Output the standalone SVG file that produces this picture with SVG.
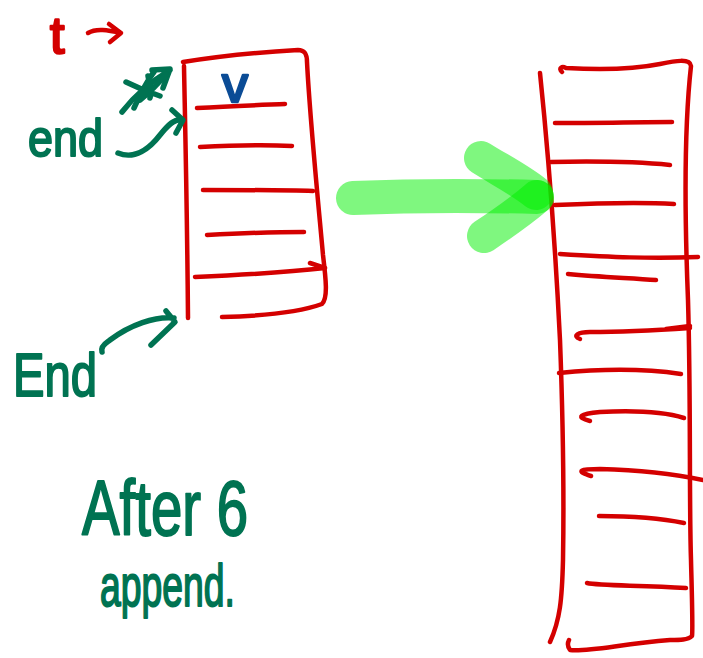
<svg xmlns="http://www.w3.org/2000/svg" width="703" height="658" viewBox="0 0 703 658">
  <style>
    .red { fill: none; stroke: #d40000; stroke-width: 4.5; stroke-linecap: round; stroke-linejoin: round; }
    .ink { fill: none; stroke: #007352; stroke-width: 5.5; stroke-linecap: round; stroke-linejoin: round; }
    .hl { fill: none; stroke: #00f000; stroke-opacity: 0.5; stroke-width: 34; stroke-linecap: round; stroke-linejoin: round; }
    .hand { font-family: "Liberation Sans", "DejaVu Sans", sans-serif; stroke-linejoin: round; }
    .green { fill: #007352; stroke: #007352; stroke-width: 2; }
  </style>
  <rect width="703" height="658" fill="#ffffff"/>

  <!-- pointer label t -->
  <g id="label-t">
    <text class="hand" x="50" y="53" font-size="52" fill="#d40000" stroke="#d40000" stroke-width="2.5">t</text>
  </g>

  <!-- small array (before growing) -->
  <g id="small-array">
    <path class="red" d="M184,66 C185,120 187,200 188,318"/>
    <path class="red" d="M183,62 C220,56 262,52 298,50 C306,50 307,56 307,62 C310,120 318,200 323,255 C326,280 328,298 322,304 C300,312 262,316 222,317"/>
    <path class="red" d="M197,108 C230,106 260,105 285,104"/>
    <path class="red" d="M200,147 C240,145 270,145 292,146"/>
    <path class="red" d="M203,190 C250,190 285,190 313,191"/>
    <path class="red" d="M207,235 C245,233 280,232 304,232"/>
    <path class="red" d="M195,277 C240,275 290,272 325,268 M310,263 L325,268"/>
    <text class="hand" x="222" y="102" font-size="52" fill="#0b4c96" stroke="#0b4c96" stroke-width="2.5">v</text>
  </g>

  <!-- large array (after growing) -->
  <g id="large-array">
    <path class="red" d="M540,73 C548,150 556,260 560,340 C563,420 564,500 563,560 C562,600 560,620 550,642"/>
    <path class="red" d="M562,72 C558,68 562,66 566,68 C600,70 630,70 660,64 C675,61 690,58 691,66 C685,120 684,200 688,300 C691,400 689,500 691,560 C692,600 693,630 692,636 C688,640 680,640 670,640 C620,644 590,652 570,650 C567,646 568,642 569,640"/>
    <path class="red" d="M555,123 C600,123 640,122 672,122"/>
    <path class="red" d="M551,162 C600,161 640,162 670,165"/>
    <path class="red" d="M555,205 C600,203 640,202 674,204"/>
    <path class="red" d="M560,254 C610,257 650,259 698,257"/>
    <path class="red" d="M568,274 C600,277 630,278 656,280"/>
    <path class="red" d="M580,339 C572,336 578,332 590,332 C630,332 660,330 690,328 M666,329 L690,326"/>
    <path class="red" d="M559,373 C600,369 640,368 681,374"/>
    <path class="red" d="M590,421 C575,417 580,414 600,412 C640,410 665,412 684,418"/>
    <path class="red" d="M591,476 C575,471 580,469 600,469 C640,470 670,473 703,480"/>
    <path class="red" d="M599,516 C630,516 660,518 684,523"/>
    <path class="red" d="M587,583 C600,586 640,585 686,588"/>
  </g>

  <!-- labels -->
  <g id="label-end-top">
    <text class="hand green" x="28" y="156" font-size="52" textLength="75" lengthAdjust="spacingAndGlyphs">end</text>
  </g>
  <g id="label-end-bottom">
    <text class="hand green" x="13" y="396" font-size="62" textLength="84" lengthAdjust="spacingAndGlyphs">End</text>
  </g>
  <g id="note">
    <text class="hand green" x="82" y="535" font-size="78" textLength="166" lengthAdjust="spacingAndGlyphs">After 6</text>
    <text class="hand green" x="100" y="606" font-size="60" textLength="135" lengthAdjust="spacingAndGlyphs">append.</text>
  </g>

  <!-- connectors -->
  <g id="connectors">
    <!-- t pointer -->
    <path class="red" stroke-width="5" d="M88,33 C96,28 108,30 121,33 M109,24 L121,33 L110,42"/>
    <!-- struck-out end pointer -->
    <path class="ink" d="M122,112 C135,95 150,82 170,70 M152,70 L170,69 L163,88"/>
    <path class="ink" d="M126,82 C138,88 148,92 160,96 M134,108 C140,95 146,82 154,72 M140,100 C150,92 158,84 166,74 M148,76 C150,86 152,92 150,98"/>
    <!-- end pointer -->
    <path class="ink" d="M118,153 C135,160 150,148 160,135 C168,125 175,118 182,120 M172,110 L183,120 L176,133"/>
    <!-- End pointer -->
    <path class="ink" d="M102,352 C100,345 108,342 110,340 C130,325 155,316 174,318 M166,311 L175,322 L151,345"/>
    <!-- copy into larger array -->
    <path class="hl" d="M353,198 C400,196 460,195 537,197"/>
    <path class="hl" d="M481,158 C500,170 520,180 536,193"/>
    <path class="hl" d="M484,236 C505,222 522,210 537,197"/>
  </g>
</svg>
